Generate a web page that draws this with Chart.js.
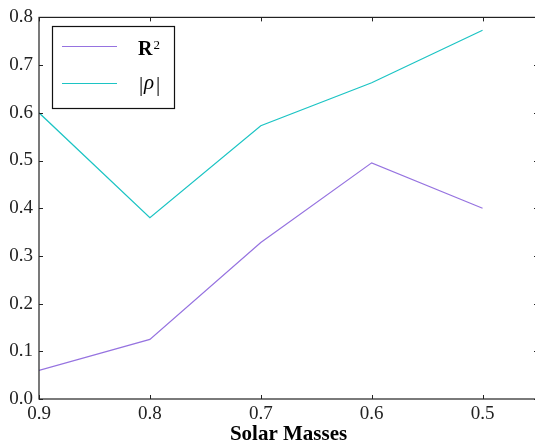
<!DOCTYPE html>
<html>
<head>
<meta charset="utf-8">
<script src="https://cdn.jsdelivr.net/npm/chart.js@4/dist/chart.umd.min.js"></script>
<style>
  html, body { margin: 0; padding: 0; overflow: hidden; background: #fff; }
  canvas { display: block; }
</style>
</head>
<body>
<canvas id="chart" width="540" height="448"></canvas>
<script>
const solarMasses = [0.9, 0.8, 0.7, 0.6, 0.5];
const rSquared = [0.06, 0.125, 0.328, 0.495, 0.4];
const rho = [0.6, 0.38, 0.573, 0.663, 0.773];
const xTicks = [0.9, 0.8, 0.7, 0.6, 0.5];
const seriesNames = ["R\u00b2", "|\u03c1|"];

const FONT = "'Liberation Serif', 'DejaVu Serif', serif";

function points(ys) {
  return solarMasses.map((x, i) => ({ x: x, y: ys[i] }));
}

// inward ticks on all four sides, plus the frame
const frameTicks = {
  id: "frameTicks",
  afterDraw(chart) {
    const ctx = chart.ctx;
    const a = chart.chartArea;
    const xs = chart.scales.x;
    const ys = chart.scales.y;
    ctx.save();
    ctx.strokeStyle = "#222";
    ctx.lineWidth = 1.2;
    ctx.strokeRect(a.left, a.top, a.right - a.left, a.bottom - a.top);
    ctx.lineWidth = 1;
    ctx.beginPath();
    xs.ticks.forEach((t) => {
      const px = Math.round(xs.getPixelForValue(t.value)) + 0.5;
      ctx.moveTo(px, a.bottom); ctx.lineTo(px, a.bottom - 4);
      ctx.moveTo(px, a.top); ctx.lineTo(px, a.top + 4);
    });
    ys.ticks.forEach((t) => {
      const py = Math.round(ys.getPixelForValue(t.value)) + 0.5;
      ctx.moveTo(a.left, py); ctx.lineTo(a.left + 4, py);
      ctx.moveTo(a.right, py); ctx.lineTo(a.right - 4, py);
    });
    ctx.stroke();
    ctx.restore();
  },
};

// boxed legend, top left like the original
const boxLegend = {
  id: "boxLegend",
  afterDraw(chart) {
    const ctx = chart.ctx;
    const x0 = 52.5, y0 = 26.5, w = 122, h = 82;
    ctx.save();
    ctx.fillStyle = "#fff";
    ctx.fillRect(x0, y0, w, h);
    ctx.strokeStyle = "#111";
    ctx.lineWidth = 1.2;
    ctx.strokeRect(x0, y0, w, h);
    const rows = [46, 83];
    chart.data.datasets.forEach((ds, i) => {
      const y = rows[i] + 0.5;
      ctx.strokeStyle = ds.borderColor;
      ctx.lineWidth = ds.borderWidth;
      ctx.beginPath();
      ctx.moveTo(62, y);
      ctx.lineTo(117, y);
      ctx.stroke();
      ctx.fillStyle = "#000";
      ctx.textAlign = "left";
      ctx.textBaseline = "alphabetic";
      if (i === 0) {
        // "R" with a raised "2"
        ctx.font = "bold 20px " + FONT;
        ctx.fillText(ds.label.charAt(0), 138, 55);
        const rw = ctx.measureText(ds.label.charAt(0)).width;
        ctx.font = "13px " + FONT;
        ctx.fillText("2", 138 + rw + 1, 49);
      } else {
        ctx.font = "21px " + FONT;
        ctx.fillText("|", 139, 91);
        ctx.font = "italic 21px " + FONT;
        ctx.fillText("\u03c1", 144, 89);
        ctx.font = "21px " + FONT;
        ctx.fillText("|", 156, 91);
      }
    });
    ctx.restore();
  },
};

new Chart(document.getElementById("chart"), {
  type: "line",
  data: {
    datasets: [
      {
        label: seriesNames[0],
        data: points(rSquared),
        borderColor: "#9673e0",
        borderWidth: 1.2,
        pointRadius: 0,
        tension: 0,
        fill: false,
      },
      {
        label: seriesNames[1],
        data: points(rho),
        borderColor: "#1cc4c4",
        borderWidth: 1.2,
        pointRadius: 0,
        tension: 0,
        fill: false,
      },
    ],
  },
  options: {
    responsive: false,
    animation: false,
    layout: { padding: { top: 13, right: 2, left: 0, bottom: 0 } },
    plugins: { legend: { display: false }, tooltip: { enabled: false } },
    scales: {
      x: {
        type: "linear",
        reverse: true,
        min: 0.45,
        max: 0.9,
        grid: { display: false, drawTicks: false },
        border: { display: false },
        afterBuildTicks: (scale) => {
          scale.ticks = xTicks.map((v) => ({ value: v }));
        },
        afterFit: (scale) => { scale.height = 49; },
        ticks: {
          padding: 4,
          color: "#222",
          font: { family: FONT, size: 19 },
          callback: (v) => v.toFixed(1),
          maxRotation: 0,
        },
        title: {
          display: true,
          text: "Solar Masses",
          color: "#000",
          font: { family: FONT, size: 21, weight: "bold" },
          padding: { top: 0, bottom: 1 },
        },
      },
      y: {
        min: 0,
        max: 0.8,
        grid: { display: false, drawTicks: false },
        border: { display: false },
        afterFit: (scale) => { scale.width = 39; },
        ticks: {
          stepSize: 0.1,
          padding: 6,
          color: "#222",
          font: { family: FONT, size: 19 },
          callback: (v) => v.toFixed(1),
        },
      },
    },
  },
  plugins: [frameTicks, boxLegend],
});
</script>
</body>
</html>
